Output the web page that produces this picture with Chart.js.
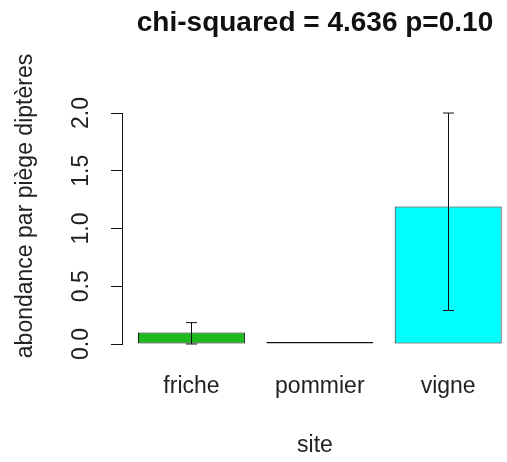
<!DOCTYPE html>
<html lang="fr">
<head>
  <meta charset="UTF-8" />
  <title>abondance par piège diptères</title>
  <script src="https://cdn.jsdelivr.net/npm/chart.js"></script>
  <style>
    body { margin: 0; background: #fff; }
    canvas { display: block; }
  </style>
</head>
<body>
  <canvas id="grafica" width="507" height="462"></canvas>
  <script>
    // donnees
    const categories = ['friche', 'pommier', 'vigne'];
    const valeurs = [0.10, 0, 1.19];
    const basErreur = [0.0, 0, 0.29];
    const hautErreur = [0.185, 0, 2.0];
    const couleurs = ['#1cba1c', '#222222', '#00ffff'];
    const ticksY = [0, 0.5, 1.0, 1.5, 2.0];

    // positions des barres comme dans barplot() (largeur 1, espace 0.2)
    const posX = i => 0.2 + i * 1.2 + 0.5;

    Chart.defaults.font.family = "'Liberation Sans', Arial, sans-serif";
    Chart.defaults.color = '#222';

    // barres d'erreur + ligne de l'axe y (seulement de 0 a 2)
    const erreurs = {
      id: 'erreurs',
      afterDatasetsDraw(chart) {
        const { ctx, scales: { x, y } } = chart;
        ctx.save();
        ctx.strokeStyle = '#111';
        ctx.lineWidth = 1;
        categories.forEach((c, i) => {
          if (hautErreur[i] === basErreur[i]) return;
          const px = Math.round(x.getPixelForValue(posX(i))) + 0.5;
          const y1 = y.getPixelForValue(basErreur[i]);
          const y2 = y.getPixelForValue(hautErreur[i]);
          ctx.beginPath();
          ctx.moveTo(px, y1); ctx.lineTo(px, y2);
          ctx.moveTo(px - 5.5, y1); ctx.lineTo(px + 5.5, y1);
          ctx.moveTo(px - 5.5, y2); ctx.lineTo(px + 5.5, y2);
          ctx.stroke();
        });
        // axe y
        const ax = Math.round(chart.chartArea.left) - 0.5;
        ctx.beginPath();
        ctx.moveTo(ax, y.getPixelForValue(ticksY[0]));
        ctx.lineTo(ax, y.getPixelForValue(ticksY[ticksY.length - 1]));
        ctx.stroke();
        ctx.restore();
      }
    };

    new Chart(document.getElementById('grafica'), {
      type: 'bar',
      data: {
        datasets: [{
          data: valeurs.map((v, i) => ({ x: posX(i), y: v })),
          backgroundColor: couleurs,
          borderColor: '#111',
          borderWidth: 1,
          borderSkipped: false,
          minBarLength: 2,
          barPercentage: 1 / 1.2,
          categoryPercentage: 1
        }]
      },
      options: {
        responsive: false,
        animation: false,
        layout: { padding: 0 },
        plugins: {
          legend: { display: false },
          tooltip: { enabled: false },
          title: {
            display: true,
            text: 'chi-squared = 4.636 p=0.10',
            fullSize: false,
            color: '#111',
            font: { size: 28, weight: 'bold' },
            padding: { top: 6, bottom: 28.4 }
          }
        },
        scales: {
          x: {
            type: 'linear',
            offset: false,
            min: 0.06,
            max: 3.65,
            grid: { display: false, drawTicks: false, offset: false },
            border: { display: false },
            afterBuildTicks: s => { s.ticks = categories.map((c, i) => ({ value: posX(i) })); },
            afterFit: s => { s.height = 118; },
            ticks: {
              autoSkip: false,
              maxRotation: 0,
              padding: 29,
              font: { size: 23 },
              callback: (v, i) => categories[i]
            },
            title: {
              display: true,
              text: 'site',
              font: { size: 23 },
              padding: { top: 0, bottom: 3 }
            }
          },
          y: {
            min: 0,
            max: 2.39,
            afterBuildTicks: s => { s.ticks = ticksY.map(v => ({ value: v })); },
            afterFit: s => { s.width = 123; },
            border: { display: false },
            grid: {
              drawOnChartArea: false,
              drawTicks: true,
              tickLength: 12,
              color: '#111'
            },
            ticks: {
              minRotation: 90,
              maxRotation: 90,
              crossAlign: 'center',
              padding: 13,
              font: { size: 23 },
              callback: v => v.toFixed(1)
            },
            title: {
              display: true,
              text: 'abondance par piège diptères',
              font: { size: 23 },
              padding: { top: 12, bottom: 0 }
            }
          }
        }
      },
      plugins: [erreurs]
    });
  </script>
</body>
</html>
